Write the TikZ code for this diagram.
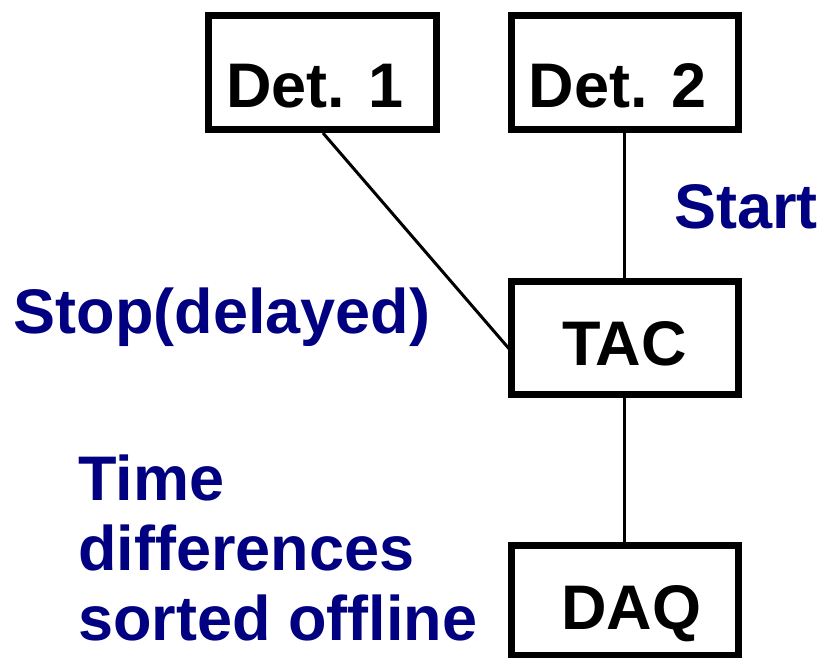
\documentclass[tikz,border=0pt]{standalone}
\usepackage{fontspec}
\setmainfont{Liberation Sans}
\definecolor{navyblue}{RGB}{0,0,128}
\begin{document}
\begin{tikzpicture}[x=0.5pt,y=-0.5pt,
  box/.style={draw=black,line width=3.5pt,rectangle,inner sep=0pt,
    minimum width=113.5pt,font=\fontsize{31.5}{36}\selectfont\bfseries,text depth=0pt},
  conn/.style={draw=black,line width=1.5pt},
  blue label/.style={text=navyblue,inner sep=0pt,font=\fontsize{31.5}{36}\selectfont\bfseries}]
\useasboundingbox[fill=white] (0,0) rectangle (825,658);
\node[box,minimum width=114pt,minimum height=57pt,text height=35pt] (det1) at (322,73) {Det. 1\hspace*{7pt}};
\node[box,minimum height=57pt,text height=35pt] (det2) at (624.5,73) {Det. 2\hspace*{7pt}};
\node[box,minimum height=56.5pt,text height=27.5pt] (tac) at (624.5,337.5) {TAC};
\node[box,minimum height=55pt,text height=29pt] (daq) at (624.5,600) {\hspace*{7pt}DAQ};
\coordinate (d1out) at (323,133);
\coordinate (tacin) at (511,351);
\draw[conn] (d1out) -- (tacin);
\draw[conn] (det2.south) -- (tac.north);
\draw[conn] (tac.south) -- (daq.north);
\node[blue label,anchor=base] (start) at (746,228) {Start};
\node[blue label,anchor=base] (stop) at (222,333) {Stop(delayed)};
\node[blue label,anchor=base west] (t1) at (78,500) {Time};
\node[blue label,anchor=base west] (t2) at (78,570) {differences};
\node[blue label,anchor=base west] (t3) at (78,640) {sorted offline};
\end{tikzpicture}
\end{document}
